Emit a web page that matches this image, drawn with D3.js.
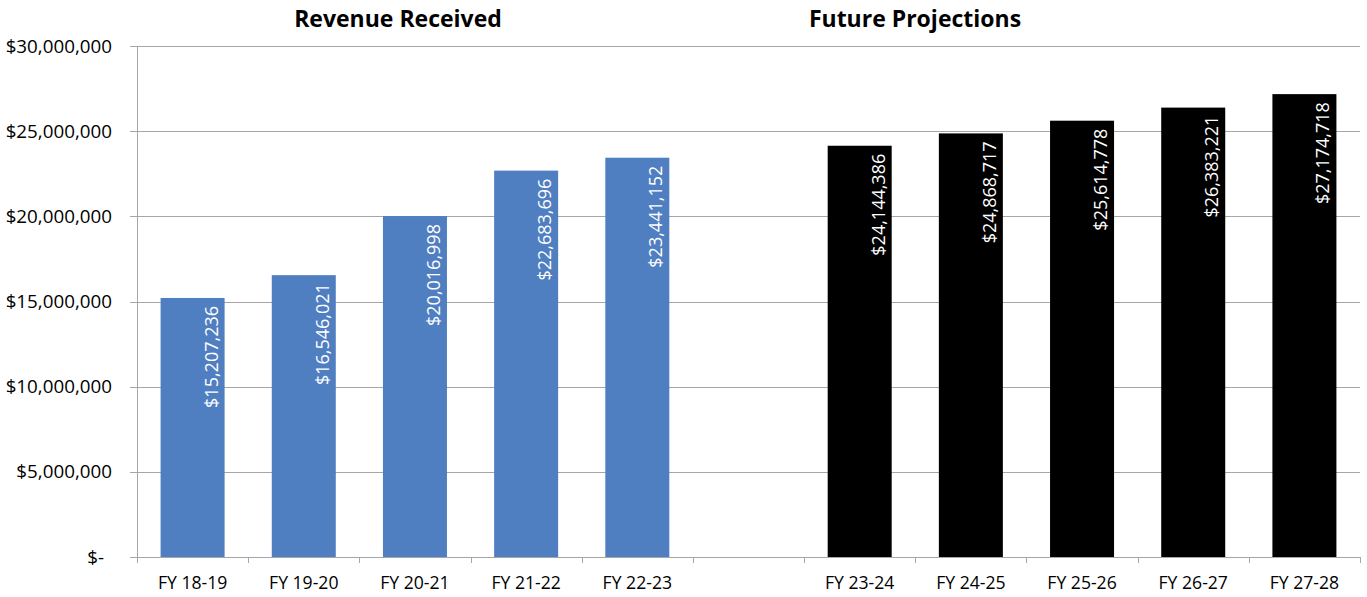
<!DOCTYPE html>
<html>
<head>
<meta charset="utf-8">
<script src="https://cdn.jsdelivr.net/npm/d3@7"></script>
<style>
  html, body { margin: 0; padding: 0; background: #fff; }
  svg { display: block; font-family: "Open Sans", sans-serif; }
</style>
</head>
<body>
<svg id="chart" width="1367" height="597"></svg>
<script>
// ---- Data ----
const receivedCategories = ["FY 18-19", "FY 19-20", "FY 20-21", "FY 21-22", "FY 22-23"];
const receivedValues = [15207236, 16546021, 20016998, 22683696, 23441152];
const gapCategory = [" "];
const projectedCategories = ["FY 23-24", "FY 24-25", "FY 25-26", "FY 26-27", "FY 27-28"];
const projectedValues = [24144386, 24868717, 25614778, 26383221, 27174718];
const yTicks = [0, 5000000, 10000000, 15000000, 20000000, 25000000, 30000000];
const titles = ["Revenue Received", "Future Projections"];

// ---- Layout ----
const mLeft = 137, mRight = 1360, mTop = 46, mBottom = 557;
const svg = d3.select("#chart");

const categories = receivedCategories.concat(gapCategory, projectedCategories);
const bars = receivedCategories.map((c, i) => ({cat: c, value: receivedValues[i], color: "#4F7EC1"}))
  .concat(projectedCategories.map((c, i) => ({cat: c, value: projectedValues[i], color: "#000000"})));

const pad = 1 - 64 / ((mRight - mLeft) / categories.length);
const x = d3.scaleBand().domain(categories).range([mLeft, mRight]).paddingInner(pad).paddingOuter(pad / 2);
const y = d3.scaleLinear().domain([0, 30000000]).range([mBottom, mTop]);

// gridlines
svg.append("g").selectAll("line").data(yTicks).join("line")
  .attr("x1", mLeft - 7).attr("x2", mRight)
  .attr("y1", d => Math.round(y(d)) + 0.5).attr("y2", d => Math.round(y(d)) + 0.5)
  .attr("stroke", "#A6A6A6").attr("stroke-width", 1);

// y-axis line
svg.append("line").attr("x1", mLeft + 0.5).attr("x2", mLeft + 0.5)
  .attr("y1", mTop).attr("y2", mBottom).attr("stroke", "#A6A6A6");

// y labels
const fmt = d3.format(",");
svg.append("g").selectAll("text").data(yTicks).join("text")
  .attr("x", d => d === 0 ? 104 : 112)
  .attr("y", d => y(d))
  .attr("dy", "0.35em")
  .attr("text-anchor", "end")
  .attr("font-size", 18.8)
  .attr("fill", "#000")
  .text(d => d === 0 ? "$-" : "$" + fmt(d));

// bars
svg.append("g").selectAll("rect").data(bars).join("rect")
  .attr("x", d => x(d.cat))
  .attr("width", x.bandwidth())
  .attr("y", d => y(d.value))
  .attr("height", d => y(0) - y(d.value))
  .attr("fill", d => d.color);

// x axis line and ticks
svg.append("line").attr("x1", mLeft).attr("x2", mRight)
  .attr("y1", mBottom + 0.5).attr("y2", mBottom + 0.5).attr("stroke", "#A6A6A6");
const boundaries = d3.range(categories.length + 1).map(i => mLeft + i * x.step());
svg.append("g").selectAll("line").data(boundaries).join("line")
  .attr("x1", d => Math.round(d) + 0.5).attr("x2", d => Math.round(d) + 0.5)
  .attr("y1", mBottom).attr("y2", mBottom + 6).attr("stroke", "#A6A6A6");

// x labels
svg.append("g").selectAll("text").data(categories.filter(c => c.trim() !== "")).join("text")
  .attr("x", d => x(d) + x.bandwidth() / 2)
  .attr("y", 589)
  .attr("text-anchor", "middle")
  .attr("font-size", 17.6)
  .attr("fill", "#000")
  .text(d => d);

// data labels (rotated)
svg.append("g").selectAll("text").data(bars).join("text")
  .attr("transform", d => `translate(${x(d.cat) + x.bandwidth() / 2 + 25},${y(d.value) + 8}) rotate(-90)`)
  .attr("text-anchor", "end")
  .attr("font-size", 18)
  .attr("fill", "#fff")
  .text(d => "$" + fmt(d.value));

// titles
svg.append("text").attr("x", 398).attr("y", 27).attr("text-anchor", "middle")
  .attr("font-size", 23).attr("font-weight", "bold").text(titles[0]);
svg.append("text").attr("x", 915).attr("y", 27).attr("text-anchor", "middle")
  .attr("font-size", 23).attr("font-weight", "bold").text(titles[1]);
</script>
</body>
</html>
